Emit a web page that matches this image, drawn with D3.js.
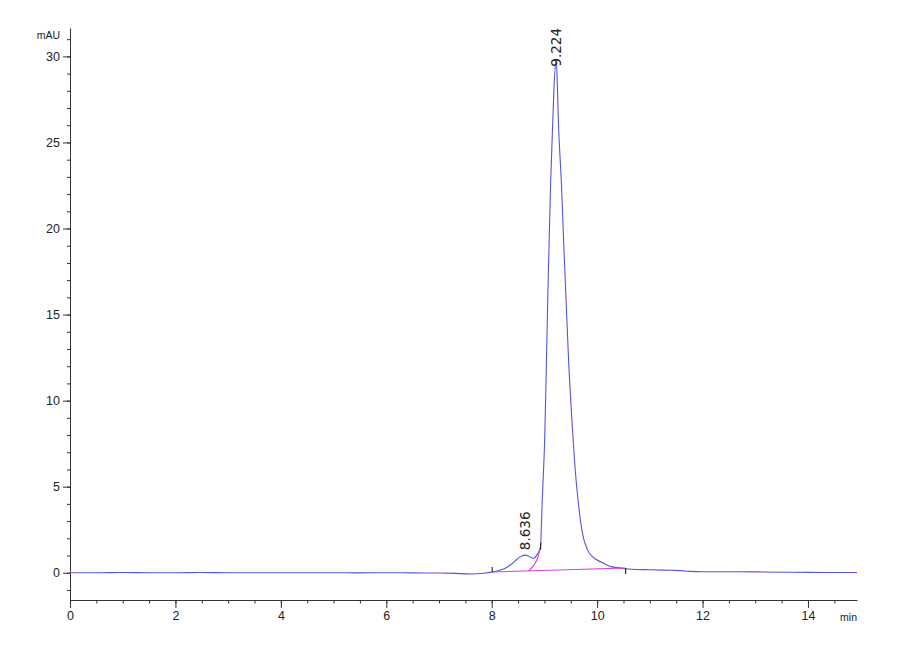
<!DOCTYPE html>
<html>
<head>
<meta charset="utf-8">
<script src="https://cdn.jsdelivr.net/npm/d3@7"></script>
<style>
  body { margin: 0; background: #fff; }
  svg { display: block; }
</style>
</head>
<body>
<div id="chart"></div>
<script>
// chromatogram trace (min, mAU)
const traceTime = [
  0, 0.5, 1.0, 1.5, 2.0, 2.5, 3.0, 3.5, 4.0, 4.5, 5.0, 5.5, 6.0, 6.5, 7.0,
  7.3, 7.6, 7.85, 8.07, 8.25, 8.36, 8.49, 8.57, 8.64, 8.72, 8.79, 8.86,
  8.928, 8.94, 8.955, 8.98, 9.005, 9.037, 9.067, 9.086, 9.118, 9.162, 9.185,
  9.224, 9.245, 9.262, 9.322, 9.371, 9.403, 9.462, 9.498, 9.545, 9.580,
  9.637, 9.720, 9.815, 9.910, 10.075, 10.245, 10.43, 10.6, 11.0, 11.4,
  11.6, 11.75, 12.0, 12.5, 13.0, 13.5, 14.0, 14.5, 14.93
];
const traceMAU = [
  0.00, 0.00, 0.01, 0.00, 0.00, 0.01, 0.00, 0.00, 0.00, 0.00, 0.00, -0.01, 0.00, -0.01, -0.02,
  -0.04, -0.07, -0.03, 0.08, 0.25, 0.46, 0.81, 0.97, 1.02, 0.93, 0.84, 1.05,
  1.51, 2.50, 3.90, 5.70, 7.73, 12.09, 16.44, 18.77, 22.66, 26.51, 28.40,
  29.75, 28.40, 26.51, 22.66, 18.77, 16.44, 12.09, 10.05, 7.73, 6.16,
  4.24, 2.32, 1.34, 0.93, 0.62, 0.37, 0.28, 0.22, 0.17, 0.14,
  0.12, 0.08, 0.06, 0.06, 0.05, 0.03, 0.02, 0.01, 0.01
];

// integration baseline and the skim under the main peak
const baseTime = [8.01, 10.54];
const baseMAU = [0.04, 0.27];
const skimTime = [8.70, 8.795, 8.866, 8.91, 8.928];
const skimMAU = [0.10, 0.41, 0.81, 1.28, 1.51];

// peak labels
const peakTime = [8.636, 9.224];
const peakMAU = [1.02, 29.75];
const peakLabel = ["8.636", "9.224"];

// integration marks: start, split, end
const markTime = [8.01, 8.928, 10.54];
const markMAU = [0.04, 1.51, 0.27];
const markKind = ["up", "mid", "down"];

// axes
const xMajorTicks = [0, 2, 4, 6, 8, 10, 12, 14];
const xMinorTicks = d3.range(0, 14.51, 0.5);
const yMajorTicks = [0, 5, 10, 15, 20, 25, 30];
const yMinorTicks = d3.range(-1, 31.5, 1);

const W = 900, H = 660;
const plotLeft = 70, plotRight = 857, plotTop = 28, plotBottom = 600;

const svg = d3.select("#chart").append("svg")
    .attr("width", W)
    .attr("height", H);

svg.append("rect").attr("width", W).attr("height", H).attr("fill", "#fff");

const x = d3.scaleLinear().domain([0, 14.93]).range([plotLeft, plotRight]);
const y = d3.scaleLinear().domain([-1.585, 31.65]).range([plotBottom, plotTop]);

const axisFont = "'Liberation Sans', Arial, sans-serif";

// --- y axis ---
svg.append("g")
    .attr("transform", `translate(${plotLeft},0)`)
    .call(d3.axisLeft(y).tickValues(yMinorTicks).tickSize(3).tickSizeOuter(0).tickFormat(""));

const yMajor = svg.append("g")
    .attr("transform", `translate(${plotLeft},0)`)
    .call(d3.axisLeft(y).tickValues(yMajorTicks).tickSize(7).tickSizeOuter(0));
yMajor.select(".domain").remove();

yMajor.selectAll("text")
    .attr("font-family", axisFont)
    .attr("font-size", 12.5)
    .attr("fill", "#222");

svg.append("text")
    .attr("x", plotLeft - 10)
    .attr("y", y(31))
    .attr("text-anchor", "end")
    .attr("font-family", axisFont)
    .attr("font-size", 10.5)
    .attr("fill", "#222")
    .text("mAU");

// --- x axis ---
svg.append("g")
    .attr("transform", `translate(0,${plotBottom})`)
    .call(d3.axisBottom(x).tickValues(xMinorTicks).tickSize(3.5).tickSizeOuter(0).tickFormat(""));

const xMajor = svg.append("g")
    .attr("transform", `translate(0,${plotBottom})`)
    .call(d3.axisBottom(x).tickValues(xMajorTicks).tickSize(8).tickSizeOuter(0));
xMajor.select(".domain").remove();

xMajor.selectAll("text")
    .attr("font-family", axisFont)
    .attr("font-size", 12.5)
    .attr("fill", "#222");

svg.append("text")
    .attr("x", plotRight)
    .attr("y", plotBottom + 21)
    .attr("text-anchor", "end")
    .attr("font-family", axisFont)
    .attr("font-size", 10.5)
    .attr("fill", "#222")
    .text("min");

svg.selectAll(".domain, .tick line").attr("stroke", "#333");

// --- trace ---
const trace = traceTime.map((t, i) => ({ t: t, v: traceMAU[i] }));
const line = d3.line().x(d => x(d.t)).y(d => y(d.v)).curve(d3.curveMonotoneX);

svg.append("path")
    .attr("d", line(trace))
    .attr("fill", "none")
    .attr("stroke", "#5454e0")
    .attr("stroke-width", 1.1);

// baseline + skim (magenta)
const base = baseTime.map((t, i) => ({ t: t, v: baseMAU[i] }));
const skim = skimTime.map((t, i) => ({ t: t, v: skimMAU[i] }));

svg.append("path")
    .attr("d", d3.line().x(d => x(d.t)).y(d => y(d.v))(base))
    .attr("fill", "none")
    .attr("stroke", "#e03ce0")
    .attr("stroke-width", 1.1);

svg.append("path")
    .attr("d", line(skim))
    .attr("fill", "none")
    .attr("stroke", "#e03ce0")
    .attr("stroke-width", 1.1);

// integration marks
markTime.forEach((t, i) => {
    const cx = x(t), cy = y(markMAU[i]);
    let y1 = cy, y2 = cy;
    if (markKind[i] === "up") { y1 = cy - 5; y2 = cy; }
    else if (markKind[i] === "down") { y1 = cy; y2 = cy + 6; }
    else { y1 = cy - 4; y2 = cy + 3; }
    svg.append("line")
        .attr("x1", cx).attr("x2", cx)
        .attr("y1", y1).attr("y2", y2)
        .attr("stroke", "#333")
        .attr("stroke-width", 1.2);
});

// peak labels, rotated; kept inside the plot top
peakTime.forEach((t, i) => {
    const lbl = svg.append("text")
        .attr("font-family", "'DejaVu Sans', sans-serif")
        .attr("font-size", 13.5)
        .attr("fill", "#222")
        .text(peakLabel[i]);
    const len = lbl.node().getComputedTextLength();
    const ly = Math.max(y(peakMAU[i]) - 5, plotTop + len);
    const lx = x(t) + 5;
    lbl.attr("transform", `translate(${lx},${ly}) rotate(-90)`);
});
</script>
</body>
</html>
